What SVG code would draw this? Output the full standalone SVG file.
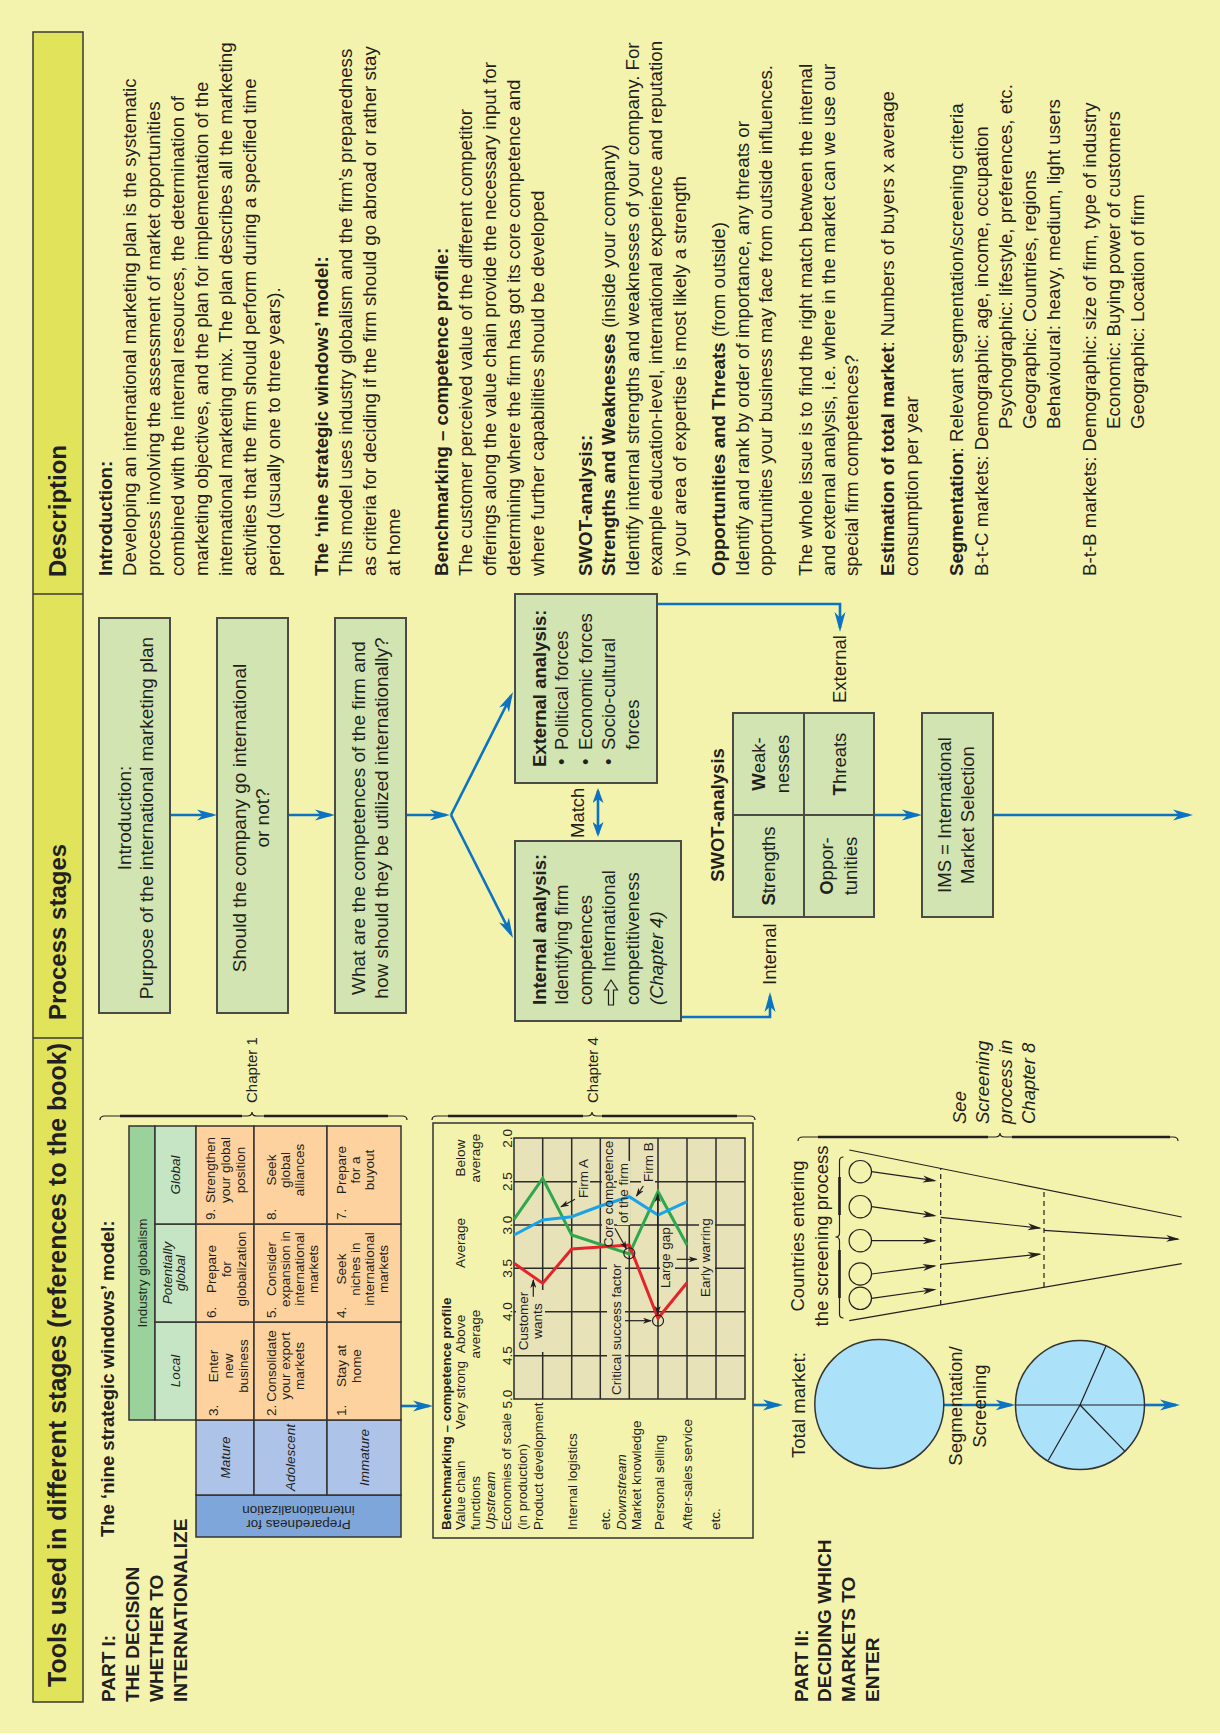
<svg xmlns="http://www.w3.org/2000/svg" width="1220" height="1735" viewBox="0 0 1220 1735">
<defs>
<style>
text{font-family:'Liberation Sans',Arial,Helvetica,sans-serif;fill:#231F20}
.b{font-weight:bold}
.i{font-style:italic}
.h{font-size:24px;font-weight:bold}
.pt{font-size:19px;font-weight:bold}
.p{font-size:19px}
.e{font-size:18.5px}
.d{font-size:18.7px}
.s{font-size:13.5px}
.c{font-size:15px}
.m{text-anchor:middle}
.box{fill:#D1E4B1;stroke:#4B4B45;stroke-width:2}
.bl{stroke:#0B73C1;stroke-width:2.6;fill:none}
.k{stroke:#231F20;stroke-width:1.2;fill:none}
.kt{stroke:#231F20;stroke-width:2.6;fill:none}
.gl{stroke:#2B2B2B;stroke-width:1.5}
.cell{stroke:#333;stroke-width:1.5}
.ko{fill:#E8E2B9}
</style>
<marker id="ab" viewBox="0 0 20 12" markerWidth="20" markerHeight="12" refX="16" refY="6" orient="auto" markerUnits="userSpaceOnUse"><path d="M0,0.5 L20,6 L0,11.5 L5.5,6 Z" fill="#0B73C1"/></marker>
<marker id="ab2" viewBox="0 0 15 11" markerWidth="15" markerHeight="11" refX="12" refY="5.5" orient="auto-start-reverse" markerUnits="userSpaceOnUse"><path d="M0,0 L15,5.5 L0,11 L4,5.5 Z" fill="#0B73C1"/></marker>
<marker id="ak" viewBox="0 0 14 8" markerWidth="14" markerHeight="8" refX="12" refY="4" orient="auto" markerUnits="userSpaceOnUse"><path d="M0,0.5 L14,4 L0,7.5 L4,4 Z" fill="#231F20"/></marker>
<marker id="ak2" viewBox="0 0 9 6" markerWidth="9" markerHeight="6" refX="8" refY="3" orient="auto-start-reverse" markerUnits="userSpaceOnUse"><path d="M0,0 L9,3 L0,6 L2.5,3 Z" fill="#231F20"/></marker>
</defs>
<rect width="1220" height="1735" fill="#F4F3AE"/>
<rect y="1733" width="1220" height="2" fill="#FFFFFF"/>
<g transform="matrix(0,-1,1,0,0,1735)">
<g id="header">
<rect x="33" y="33" width="1670" height="50" fill="#E1E35B" stroke="#3A3A35" stroke-width="1.5"/>
<line x1="697" y1="33" x2="697" y2="83" stroke="#3A3A35" stroke-width="1.5"/>
<line x1="1141" y1="33" x2="1141" y2="83" stroke="#3A3A35" stroke-width="1.5"/>
<text class="h" x="48" y="66" style="font-size:25px">Tools used in different stages (references to the book)</text>
<text class="h" x="715" y="66">Process stages</text>
<text class="h" x="1158" y="66">Description</text>
</g>
<g id="part1">
<text class="pt" x="33" y="114.5">PART I:</text>
<text class="pt" x="33" y="138.5">THE DECISION</text>
<text class="pt" x="33" y="162.5">WHETHER TO</text>
<text class="pt" x="33" y="186.5">INTERNATIONALIZE</text>
</g>
<g id="part2">
<text class="pt" x="33" y="808">PART II:</text>
<text class="pt" x="33" y="831">DECIDING WHICH</text>
<text class="pt" x="33" y="855">MARKETS TO</text>
<text class="pt" x="33" y="879">ENTER</text>
</g>
<g id="connectors">
<line class="bl" x1="920" y1="170" x2="920" y2="213" marker-end="url(#ab)"/>
<line class="bl" x1="920" y1="288" x2="920" y2="331" marker-end="url(#ab)"/>
<line class="bl" x1="920" y1="406" x2="920" y2="446" marker-end="url(#ab)"/>
<line class="bl" x1="920" y1="451" x2="1039.4" y2="511.2" marker-end="url(#ab)"/>
<line class="bl" x1="920" y1="451" x2="800.6" y2="511.2" marker-end="url(#ab)"/>
<line class="bl" x1="901" y1="598" x2="944" y2="598" marker-start="url(#ab2)" marker-end="url(#ab2)"/>
<polyline class="bl" points="1131,657 1131,840 1107,840" marker-end="url(#ab)"/>
<polyline class="bl" points="718,681 718,770 739,770" marker-end="url(#ab)"/>
<line class="bl" x1="920" y1="874" x2="920" y2="918" marker-end="url(#ab)"/>
<line class="bl" x1="920" y1="993" x2="920" y2="1189" marker-end="url(#ab)"/>
<line class="bl" x1="329" y1="401" x2="329" y2="429" marker-end="url(#ab)"/>
<line class="bl" x1="330" y1="753.3" x2="330" y2="779" marker-end="url(#ab)"/>
<line class="bl" x1="330" y1="943.8" x2="330" y2="1011.5" marker-end="url(#ab)"/>
<line class="bl" x1="330" y1="1144.5" x2="330" y2="1176" marker-end="url(#ab)"/>
</g>
<g id="stage-intro">
<rect class="box" x="722" y="99" width="395" height="71"/>
<text class="p m" x="917" y="131">Introduction:</text>
<text class="p m" x="917" y="153">Purpose of the international marketing plan</text>
</g>
<g id="stage-go">
<rect class="box" x="722" y="217" width="395" height="71"/>
<text class="p m" x="917" y="246">Should the company go international</text>
<text class="p m" x="917" y="269">or not?</text>
</g>
<g id="stage-competences">
<rect class="box" x="722" y="335" width="395" height="71"/>
<text class="p m" x="917" y="365">What are the competences of the firm and</text>
<text class="p m" x="917" y="388">how should they be utilized internationally?</text>
</g>
<g id="external-analysis">
<rect class="box" x="952" y="515" width="189" height="142"/>
<text class="e b" x="968" y="546">External analysis:</text>
<text class="e" x="970" y="568">•</text><text class="e" x="985" y="568">Political forces</text>
<text class="e" x="970" y="592">•</text><text class="e" x="985" y="592">Economic forces</text>
<text class="e" x="970" y="615">•</text><text class="e" x="985" y="615">Socio-cultural</text>
<text class="e" x="985" y="639">forces</text>
<text class="e" x="1032" y="846">External</text>
</g>
<g id="internal-analysis">
<rect class="box" x="714" y="515" width="180" height="166"/>
<text class="e b" x="730" y="546">Internal analysis:</text>
<text class="e" x="730" y="568">Identifying firm</text>
<text class="e" x="730" y="592">competences</text>
<polygon class="k" points="730,608.5 745,608.5 745,604.5 755,611 745,617.5 745,613.5 730,613.5"/>
<text class="e" x="763" y="615">International</text>
<text class="e" x="730" y="639">competitiveness</text>
<text class="e i" x="730" y="663">(Chapter 4)</text>
<text class="e" x="750" y="776">Internal</text>
</g>
<g id="match">
<text class="e" x="897" y="584">Match</text>
</g>
<g id="swot">
<text class="e b m" x="920" y="724">SWOT-analysis</text>
<rect class="box" x="818" y="733" width="204" height="141"/>
<line x1="920" y1="733" x2="920" y2="874" stroke="#4B4B45" stroke-width="2"/>
<line x1="818" y1="804" x2="1022" y2="804" stroke="#4B4B45" stroke-width="2"/>
<text class="e m" x="869" y="775"><tspan class="b">S</tspan>trengths</text>
<text class="e m" x="971" y="765"><tspan class="b">W</tspan>eak-</text>
<text class="e m" x="971" y="789">nesses</text>
<text class="e m" x="869" y="833"><tspan class="b">O</tspan>ppor-</text>
<text class="e m" x="869" y="857">tunities</text>
<text class="e m" x="971" y="846"><tspan class="b">T</tspan>hreats</text>
</g>
<g id="ims">
<rect class="box" x="818" y="922" width="204" height="71"/>
<text class="e m" x="920" y="951">IMS = International</text>
<text class="e m" x="920" y="974">Market Selection</text>
</g>
<g id="description">
<text class="d b" x="1159" y="112">Introduction:</text>
<text class="d" x="1159" y="136">Developing an international marketing plan is the systematic</text>
<text class="d" x="1159" y="160">process involving the assessment of market opportunities</text>
<text class="d" x="1159" y="184">combined with the internal resources, the determination of</text>
<text class="d" x="1159" y="208">marketing objectives, and the plan for implementation of the</text>
<text class="d" x="1159" y="232">international marketing mix. The plan describes all the marketing</text>
<text class="d" x="1159" y="256">activities that the firm should perform during a specified time</text>
<text class="d" x="1159" y="280">period (usually one to three years).</text>
<text class="d b" x="1159" y="328">The ‘nine strategic windows’ model:</text>
<text class="d" x="1159" y="352">This model uses industry globalism and the firm’s preparedness</text>
<text class="d" x="1159" y="376">as criteria for deciding if the firm should go abroad or rather stay</text>
<text class="d" x="1159" y="400">at home</text>
<text class="d b" x="1159" y="448">Benchmarking – competence profile:</text>
<text class="d" x="1159" y="472">The customer perceived value of the different competitor</text>
<text class="d" x="1159" y="496">offerings along the value chain provide the necessary input for</text>
<text class="d" x="1159" y="520">determining where the firm has got its core competence and</text>
<text class="d" x="1159" y="544">where further capabilities should be developed</text>
<text class="d b" x="1159" y="592">SWOT-analysis:</text>
<text class="d" x="1159" y="615"><tspan class="b">Strengths and Weaknesses</tspan> (inside your company)</text>
<text class="d" x="1159" y="639">Identify internal strengths and weaknesses of your company. For</text>
<text class="d" x="1159" y="662">example education-level, international experience and reputation</text>
<text class="d" x="1159" y="686">in your area of expertise is most likely a strength</text>
<text class="d" x="1159" y="725"><tspan class="b">Opportunities and Threats</tspan> (from outside)</text>
<text class="d" x="1159" y="749">Identify and rank by order of importance, any threats or</text>
<text class="d" x="1159" y="772">opportunities your business may face from outside influences.</text>
<text class="d" x="1159" y="812">The whole issue is to find the right match between the internal</text>
<text class="d" x="1159" y="835">and external analysis, i.e. where in the market can we use our</text>
<text class="d" x="1159" y="858">special firm competences?</text>
<text class="d" x="1159" y="894"><tspan class="b">Estimation of total market</tspan>: Numbers of buyers x average</text>
<text class="d" x="1159" y="918">consumption per year</text>
<text class="d" x="1159" y="963"><tspan class="b">Segmentation</tspan>: Relevant segmentation/screening criteria</text>
<text class="d" x="1159" y="988">B-t-C markets: Demographic: age, income, occupation</text>
<text class="d" x="1306" y="1012">Psychographic: lifestyle, preferences, etc.</text>
<text class="d" x="1306" y="1036">Geographic: Countries, regions</text>
<text class="d" x="1306" y="1060">Behavioural: heavy, medium, light users</text>
<text class="d" x="1159" y="1096">B-t-B markets: Demographic: size of firm, type of industry</text>
<text class="d" x="1306" y="1120">Economic: Buying power of customers</text>
<text class="d" x="1306" y="1144">Geographic: Location of firm</text>
</g>
<g id="nine-windows">
<text class="e b" x="198" y="114">The ‘nine strategic windows’ model:</text>
<rect class="cell" x="315" y="129" width="294" height="26" fill="#9BD29C"/>
<rect class="cell" x="315" y="155" width="98" height="41" fill="#C6E5C4"/>
<rect class="cell" x="413" y="155" width="98" height="41" fill="#C6E5C4"/>
<rect class="cell" x="511" y="155" width="98" height="41" fill="#C6E5C4"/>
<rect class="cell" x="198" y="196" width="42" height="205" fill="#7EA6DA"/>
<rect class="cell" x="240" y="196" width="75" height="58" fill="#AEC3E8"/>
<rect class="cell" x="240" y="254" width="75" height="73" fill="#AEC3E8"/>
<rect class="cell" x="240" y="327" width="75" height="74" fill="#AEC3E8"/>
<rect class="cell" x="315" y="196" width="98" height="58" fill="#FDD29E"/>
<rect class="cell" x="413" y="196" width="98" height="58" fill="#FDD29E"/>
<rect class="cell" x="511" y="196" width="98" height="58" fill="#FDD29E"/>
<rect class="cell" x="315" y="254" width="98" height="73" fill="#FDD29E"/>
<rect class="cell" x="413" y="254" width="98" height="73" fill="#FDD29E"/>
<rect class="cell" x="511" y="254" width="98" height="73" fill="#FDD29E"/>
<rect class="cell" x="315" y="327" width="98" height="74" fill="#FDD29E"/>
<rect class="cell" x="413" y="327" width="98" height="74" fill="#FDD29E"/>
<rect class="cell" x="511" y="327" width="98" height="74" fill="#FDD29E"/>
<text class="s m" x="462" y="147">Industry globalism</text>
<text class="s m i" x="364" y="180">Local</text>
<text class="s m i" x="462" y="172">Potentially</text>
<text class="s m i" x="462" y="185">global</text>
<text class="s m i" x="560" y="180">Global</text>
<text class="s m i" x="277.5" y="230">Mature</text>
<text class="s m i" x="277.5" y="295">Adolescent</text>
<text class="s m i" x="277.5" y="369">Immature</text>
<text class="s" x="319" y="218">3.</text>
<text class="s m" x="369" y="218">Enter</text><text class="s m" x="369" y="233">new</text><text class="s m" x="369" y="248">business</text>
<text class="s" x="417" y="216">6.</text>
<text class="s m" x="466" y="216">Prepare</text><text class="s m" x="466" y="231">for</text><text class="s m" x="466" y="246">globalization</text>
<text class="s" x="515" y="215">9.</text>
<text class="s m" x="565" y="215">Strengthen</text><text class="s m" x="565" y="230">your global</text><text class="s m" x="565" y="245">position</text>
<text class="s" x="319" y="276">2.</text>
<text class="s m" x="369" y="276">Consolidate</text><text class="s m" x="369" y="290">your export</text><text class="s m" x="369" y="304">markets</text>
<text class="s" x="417" y="276">5.</text>
<text class="s m" x="466" y="276">Consider</text><text class="s m" x="466" y="290">expansion in</text><text class="s m" x="466" y="304">international</text><text class="s m" x="466" y="318">markets</text>
<text class="s" x="515" y="276">8.</text>
<text class="s m" x="565" y="276">Seek</text><text class="s m" x="565" y="290">global</text><text class="s m" x="565" y="304">alliances</text>
<text class="s" x="319" y="346">1.</text>
<text class="s m" x="369" y="346">Stay at</text><text class="s m" x="369" y="361">home</text>
<text class="s" x="417" y="346">4.</text>
<text class="s m" x="466" y="346">Seek</text><text class="s m" x="466" y="360">niches in</text><text class="s m" x="466" y="374">international</text><text class="s m" x="466" y="388">markets</text>
<text class="s" x="515" y="346">7.</text>
<text class="s m" x="565" y="346">Prepare</text><text class="s m" x="565" y="360">for a</text><text class="s m" x="565" y="374">buyout</text>
</g>
<g id="brace-chapter1">
<path class="k" d="M615,100 Q619,100 619,105 L619,247 Q619,252 623,252 Q619,252 619,257 L619,402 Q619,407 615,407"/>
<path class="kt" d="M619,120 V242 M619,264 V388"/>
<text class="c" x="632" y="257">Chapter 1</text>
</g>
<g id="benchmark">
<rect x="197" y="433" width="415" height="320" fill="#F4F3AE" stroke="#333" stroke-width="1.5"/>
<rect x="336" y="514" width="261" height="231" fill="#E8E2B9"/>
<path class="gl" d="M379.3,514 V745 M423.3,514 V745 M466.7,514 V745 M510,514 V745 M553.3,514 V745 M336,542.7 H597 M336,571.7 H597 M336,600.3 H597 M336,629.3 H597 M336,658 H597 M336,687 H597 M336,716 H597"/>
<rect x="336" y="514" width="261" height="231" fill="none" stroke="#2B2B2B" stroke-width="1.5"/>
<rect class="ko" x="383" y="516" width="62" height="29"/>
<rect class="ko" x="338" y="607" width="136" height="18"/>
<rect class="ko" x="445" y="660" width="64" height="15"/>
<rect class="ko" x="436" y="699" width="79" height="16"/>
<rect class="ko" x="535" y="577" width="44" height="13"/>
<rect class="ko" x="551" y="641" width="44" height="14"/>
<rect class="ko" x="486" y="602" width="110" height="12"/>
<rect class="ko" x="510" y="617" width="64" height="13"/>
<polyline points="515.7,514 556.7,542.7 500,571.7 481,629.3 543.3,658 490,687" fill="none" stroke="#2DA84C" stroke-width="3"/>
<polyline points="500,514 515,542.7 518.3,571.7 529,600.3 538.3,629.3 520,658 533.3,687" fill="none" stroke="#1BA3E6" stroke-width="3"/>
<polyline points="471.7,514 451.7,542.7 486,571.7 490,629.3 416.7,658 452.3,687" fill="none" stroke="#E4242B" stroke-width="3"/>
<circle class="k" cx="481.7" cy="629.3" r="5.5"/>
<circle class="k" cx="414.3" cy="658" r="5.5"/>
<text class="s b" x="205" y="451">Benchmarking – competence profile</text>
<text class="s" x="205" y="465">Value chain</text>
<text class="s" x="205" y="480">functions</text>
<text class="s i" x="205" y="495">Upstream</text>
<text class="s" x="205" y="511">Economies of scale</text>
<text class="s" x="205" y="527">(in production)</text>
<text class="s" x="205" y="543">Product development</text>
<text class="s" x="205" y="577">Internal logistics</text>
<text class="s" x="205" y="610">etc.</text>
<text class="s i" x="205" y="626">Downstream</text>
<text class="s" x="205" y="641">Market knowledge</text>
<text class="s" x="205" y="664">Personal selling</text>
<text class="s" x="205" y="692">After-sales service</text>
<text class="s" x="205" y="720">etc.</text>
<text class="s m" x="340" y="465">Very strong</text>
<text class="s m" x="401" y="465">Above</text>
<text class="s m" x="401" y="480">average</text>
<text class="s m" x="492" y="465">Average</text>
<text class="s m" x="577" y="465">Below</text>
<text class="s m" x="577" y="480">average</text>
<text class="s m" x="336" y="512">5.0</text>
<text class="s m" x="379.3" y="512">4.5</text>
<text class="s m" x="423.3" y="512">4.0</text>
<text class="s m" x="466.7" y="512">3.5</text>
<text class="s m" x="510" y="512">3.0</text>
<text class="s m" x="553.3" y="512">2.5</text>
<text class="s m" x="596.7" y="512">2.0</text>
<text class="s m" x="414" y="528">Customer</text>
<text class="s m" x="414" y="542">wants</text>
<text class="s" x="340" y="621">Critical success factor</text>
<text class="s" x="447" y="670">Large gap</text>
<text class="s" x="438" y="710">Early warring</text>
<text class="s" x="537" y="588">Firm A</text>
<text class="s m" x="541" y="613">Core competence</text>
<text class="s m" x="542" y="628">of the firm</text>
<text class="s" x="553" y="653">Firm B</text>
<line class="k" x1="535.7" y1="575" x2="528.2" y2="561" marker-end="url(#ak2)"/>
<line class="k" x1="506.7" y1="615" x2="486" y2="626.5" marker-end="url(#ak2)"/>
<line class="k" x1="549" y1="643.3" x2="539" y2="636.5" marker-end="url(#ak2)"/>
<line class="k" x1="438.3" y1="533.3" x2="455" y2="533.3" marker-end="url(#ak2)"/>
<line class="k" x1="414.3" y1="625" x2="414.3" y2="651" marker-end="url(#ak2)"/>
<line class="k" x1="421" y1="657.7" x2="541" y2="657.7" marker-start="url(#ak2)" marker-end="url(#ak2)"/>
<line class="k" x1="475.7" y1="676.7" x2="475.7" y2="696.7" marker-end="url(#ak2)"/>
</g>
<g id="brace-chapter4">
<path class="k" d="M615,432 Q619,432 619,437 L619,587 Q619,592 623,592 Q619,592 619,597 L619,750 Q619,755 615,755"/>
<path class="kt" d="M619,448 V583 M619,602 V737"/>
<text class="c" x="632" y="598">Chapter 4</text>
</g>
<g id="total-market">
<text class="e" x="277" y="805">Total market:</text>
<circle cx="331" cy="879.3" r="64.5" fill="#ACE1FA" stroke="#333" stroke-width="1.5"/>
<text class="e m" x="329" y="962">Segmentation/</text>
<text class="e m" x="329" y="986">Screening</text>
</g>
<g id="segmented-market">
<circle cx="330" cy="1080" r="64.5" fill="#ACE1FA" stroke="#333" stroke-width="1.5"/>
<path class="k" d="M330,1015.5 V1144.5 M330,1080 L389,1106 M330,1080 L274.8,1048.3 M330,1080 L283.6,1125"/>
</g>
<g id="screening">
<text class="e m" x="499" y="804">Countries entering</text>
<text class="e m" x="499" y="828">the screening process</text>
<path class="k" d="M578,843.5 Q578,839.5 574,839.5 L502,839.5 Q498,839.5 498,835.5 Q498,839.5 494,839.5 L421,839.5 Q417,839.5 417,843.5"/>
<path class="kt" d="M558,839.5 H520 M485,839.5 H437"/>
<line class="k" x1="585" y1="849.3" x2="518" y2="1181.7"/>
<line class="k" x1="414.3" y1="849.3" x2="471.4" y2="1181.7"/>
<circle class="k" cx="563.3" cy="860.3" r="11.2"/>
<circle class="k" cx="528.3" cy="860.3" r="11.2"/>
<circle class="k" cx="494.3" cy="860.3" r="11.2"/>
<circle class="k" cx="461" cy="860.3" r="11.2"/>
<circle class="k" cx="436.7" cy="860.3" r="11.2"/>
<line class="k" x1="563.3" y1="871.5" x2="554.3" y2="934.7" marker-end="url(#ak)"/>
<line class="k" x1="528.3" y1="871.5" x2="519.3" y2="934.7" marker-end="url(#ak)"/>
<line class="k" x1="494.3" y1="871.5" x2="494.3" y2="934.7" marker-end="url(#ak)"/>
<line class="k" x1="461" y1="871.5" x2="469.1" y2="934.7" marker-end="url(#ak)"/>
<line class="k" x1="436.7" y1="871.5" x2="445.5" y2="934.7" marker-end="url(#ak)"/>
<line class="k" x1="430" y1="940.7" x2="566.7" y2="940.7" stroke-dasharray="5,4"/>
<line class="k" x1="448" y1="1044" x2="546" y2="1044" stroke-dasharray="5,4"/>
<line class="k" x1="517.7" y1="940.7" x2="506.9" y2="1039.7" marker-end="url(#ak)"/>
<line class="k" x1="470.7" y1="940.7" x2="480.8" y2="1039.7" marker-end="url(#ak)"/>
<line class="k" x1="504.6" y1="1044" x2="495.8" y2="1178" marker-end="url(#ak)"/>
</g>
<g id="brace-chapter8">
<path class="k" d="M594,798 Q598,798 598,803 L598,995 Q598,1000 602,1000 Q598,1000 598,1005 L598,1173 Q598,1178 594,1178"/>
<path class="kt" d="M598,818 V988 M598,1012 V1170"/>
<text class="e i" x="611" y="966">See</text>
<text class="e i" x="611" y="989">Screening</text>
<text class="e i" x="611" y="1012">process in</text>
<text class="e i" x="611" y="1035">Chapter 8</text>
</g>
</g>
<g id="preparedness-label">
<text class="s m" transform="translate(298.5,1520) rotate(180)"><tspan x="0" y="0">Preparedneas for</tspan><tspan x="0" y="14.5">internationalization</tspan></text>
</g>
</svg>
